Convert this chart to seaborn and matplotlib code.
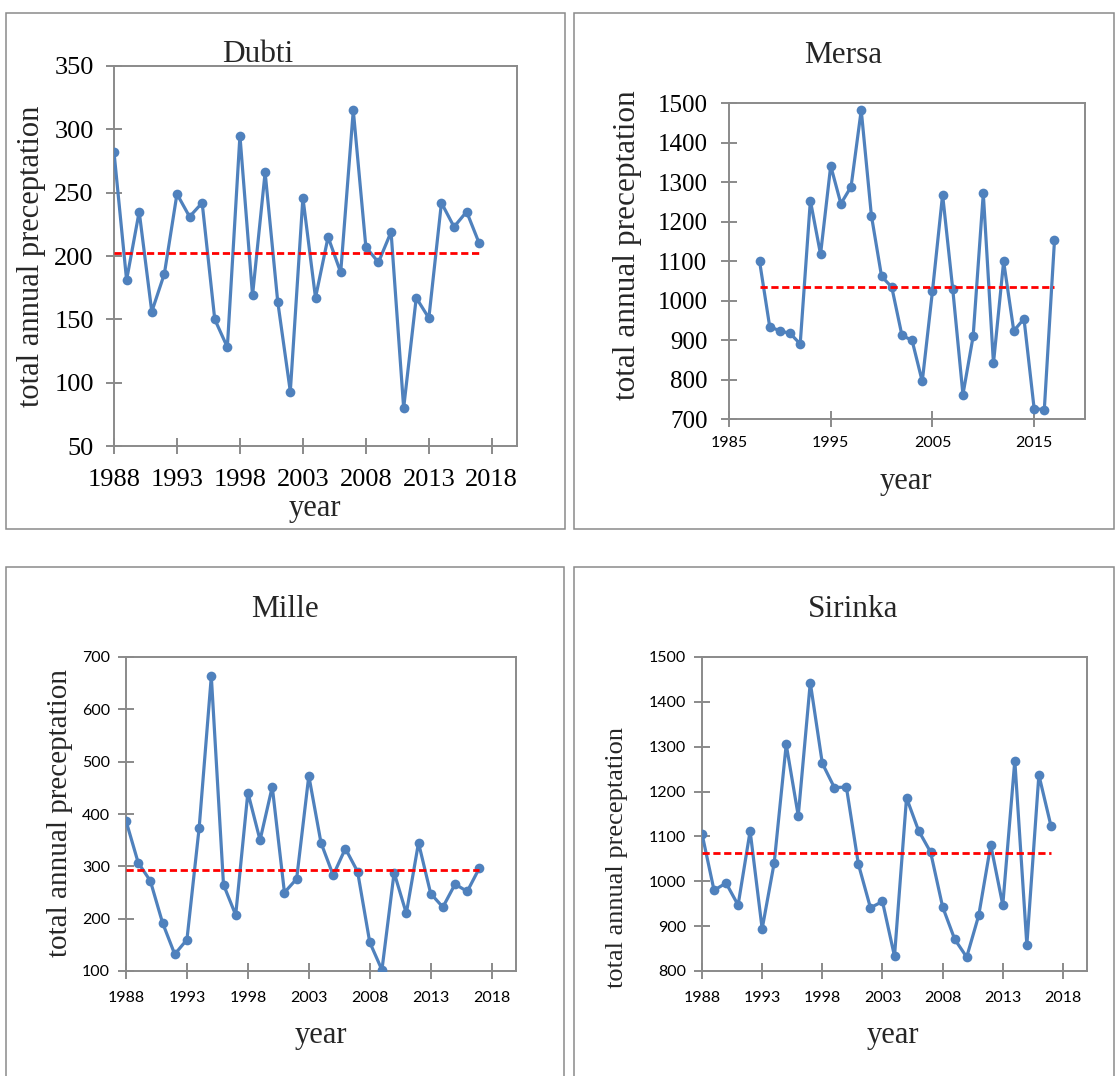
import numpy as np
import pandas as pd
import matplotlib
matplotlib.use("Agg")
import matplotlib.pyplot as plt
from matplotlib.patches import Rectangle
import seaborn as sns

# ---------------- data ----------------
years = list(range(1988, 2018))

dubti = [282, 181, 235, 156, 186, 249, 231, 242, 150, 128,
         295, 169, 266, 164, 93, 246, 167, 215, 187, 315,
         207, 195, 219, 80, 167, 151, 242, 223, 235, 210]
mersa = [1100, 934, 923, 917, 890, 1253, 1117, 1341, 1245, 1288,
         1482, 1215, 1061, 1034, 912, 899, 795, 1023, 1268, 1028,
         762, 909, 1271, 841, 1099, 923, 954, 726, 724, 1152]
mille = [387, 307, 272, 192, 132, 160, 373, 663, 265, 207,
         441, 350, 452, 250, 276, 473, 345, 283, 334, 290,
         155, 102, 288, 210, 345, 248, 222, 266, 252, 297]
sirinka = [1106, 980, 996, 947, 1112, 894, 1041, 1305, 1146, 1443,
           1263, 1209, 1210, 1038, 941, 955, 833, 1186, 1113, 1065,
           943, 871, 831, 924, 1081, 947, 1269, 858, 1237, 1124]

station_names = ["Dubti", "Mersa", "Mille", "Sirinka"]
mean_values = [202.6, 1035, 293.6, 1062.6]

y_limits = [(50, 350), (700, 1500), (100, 700), (800, 1500)]
y_steps = [50, 100, 100, 100]
x_limits = [(1988, 2020), (1985, 2020), (1988, 2020), (1988, 2020)]
x_tick_values = [list(range(1988, 2019, 5)), list(range(1985, 2016, 10)),
                 list(range(1988, 2019, 5)), list(range(1988, 2019, 5))]

y_label = "total annual preceptation"
x_label = "year"

# ---------------- style ----------------
sns.set_theme(style="white")
plt.rcParams["font.family"] = ["Liberation Serif", "DejaVu Serif"]

W, H = 1118, 1076
fig = plt.figure(figsize=(W / 100, H / 100), dpi=100)
fig.patch.set_facecolor("white")

GREY = "#8a8a8a"
BLUE = "#4F81BD"

def rect(l, t, r, b):
    return [l / W, 1 - b / H, (r - l) / W, (b - t) / H]

def fx(x):
    return x / W

def fy(y):
    return 1 - y / H

# panel borders (chart areas)
for (l, t, r, b) in [(6, 13, 565, 529), (574, 13, 1114, 529),
                     (6, 567, 564, 1090), (574, 567, 1114, 1090)]:
    fig.patches.append(Rectangle((fx(l), fy(b)), (r - l) / W, (b - t) / H,
                                 transform=fig.transFigure, fill=False,
                                 edgecolor=GREY, linewidth=1.1, zorder=0))

series = [dubti, mersa, mille, sirinka]
plot_boxes = [(114, 66, 517, 446), (729, 103, 1085, 419),
              (126, 657, 516, 971), (702, 657, 1087, 971)]
# fonts for tick labels: (y family, y size, x family, x size)
tick_fonts = [("Liberation Serif", 19, "Liberation Serif", 19),
              ("Liberation Serif", 18, "Lato", 11.5),
              ("Lato", 11.5, "Lato", 11.5),
              ("Lato", 11.5, "Lato", 11.5)]
ypads = [9, 10, 6, 6]
xpads = [11, 7, 9, 9]

title_pos = [(258, 62), (843, 63), (285, 617), (853, 617)]
ylabel_pos = [(32, 256, 22), (628, 245, 22.5), (60, 813, 21), (617, 857, 19)]
xlabel_pos = [(315, 508), (906, 481), (321, 1035), (893, 1035)]

for i in range(4):
    ax = fig.add_axes(rect(*plot_boxes[i]))
    df = pd.DataFrame({"year": years, "value": series[i]})
    sns.lineplot(data=df, x="year", y="value", ax=ax, color=BLUE,
                 linewidth=2.3, marker="o", markersize=7,
                 markeredgewidth=0, markerfacecolor=BLUE, zorder=3)
    mdf = pd.DataFrame({"year": [years[0], years[-1]],
                        "value": [mean_values[i], mean_values[i]]})
    sns.lineplot(data=mdf, x="year", y="value", ax=ax, color="#FF0000",
                 linewidth=2.0, zorder=4)
    ax.lines[-1].set_dashes((2.6, 1.3))

    ax.set_xlim(*x_limits[i])
    ax.set_ylim(*y_limits[i])
    lo, hi = y_limits[i]
    ax.set_yticks(np.arange(lo, hi + 1, y_steps[i]))
    ax.set_xticks(x_tick_values[i])
    ax.set_xlabel("")
    ax.set_ylabel("")
    ax.grid(False)
    for sp in ax.spines.values():
        sp.set_visible(True)
        sp.set_color(GREY)
        sp.set_linewidth(1.4)
    yf, ys, xf, xs = tick_fonts[i]
    ax.tick_params(axis="both", direction="inout", length=11, width=1.4,
                   color=GREY, labelcolor="black")
    ax.tick_params(axis="y", pad=ypads[i], left=True)
    ax.tick_params(axis="x", pad=xpads[i], bottom=True)
    for lab in ax.get_yticklabels():
        lab.set_family(yf)
        lab.set_fontsize(ys)
    for lab in ax.get_xticklabels():
        lab.set_family(xf)
        lab.set_fontsize(xs)

    tx, ty = title_pos[i]
    fig.text(fx(tx), fy(ty), station_names[i], ha="center", va="baseline",
             fontsize=22.5, family="Liberation Serif")
    lx, ly, ls = ylabel_pos[i]
    fig.text(fx(lx), fy(ly), y_label, ha="center", va="center",
             rotation=90, fontsize=ls, family="Liberation Serif")
    xx, xy = xlabel_pos[i]
    fig.text(fx(xx), fy(xy), x_label, ha="center", va="center",
             fontsize=22, family="Liberation Serif")

fig.savefig("out.png", dpi=100, facecolor="white")
